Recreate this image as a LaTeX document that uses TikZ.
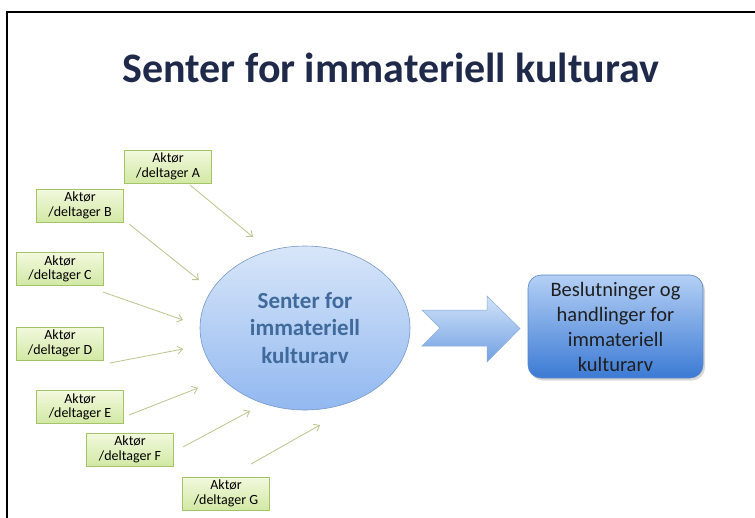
\documentclass[tikz,border=0pt]{standalone}
\usepackage{fontspec}
\setmainfont{Carlito}
\usetikzlibrary{arrows.meta,shadows,shapes.geometric}
\definecolor{titlec}{RGB}{31,42,74}
\definecolor{ellc}{RGB}{64,106,156}
\definecolor{elltop}{RGB}{216,230,249}
\definecolor{ellbot}{RGB}{145,184,240}
\definecolor{ellborder}{RGB}{120,152,200}
\definecolor{boxtop}{RGB}{180,208,245}
\definecolor{boxbot}{RGB}{60,122,212}
\definecolor{boxborder}{RGB}{90,135,200}
\definecolor{arrtop}{RGB}{210,227,249}
\definecolor{arrbot}{RGB}{112,160,226}
\definecolor{actortop}{RGB}{242,249,222}
\definecolor{actorbot}{RGB}{210,232,164}
\definecolor{actorborder}{RGB}{165,196,104}
\definecolor{feedc}{RGB}{186,198,142}
\begin{document}
\begin{tikzpicture}[x=1pt,y=-1pt,
  actor/.style={draw=actorborder, line width=0.6pt, top color=actortop, bottom color=actorbot,
    minimum width=87pt, minimum height=33pt, inner sep=0pt, align=center,
    font=\fontsize{14}{14.5}\selectfont, text=black},
  feed/.style={draw=feedc, line width=0.8pt, -{Straight Barb[length=5pt,width=8pt]}},
  hubnode/.style={ellipse, draw=ellborder, line width=0.6pt, top color=elltop, bottom color=ellbot,
    minimum width=210pt, minimum height=164pt, inner sep=0pt, align=center,
    font=\bfseries\fontsize{23}{27.5}\selectfont, text=ellc},
  resbox/.style={rectangle, rounded corners=13pt, draw=boxborder, line width=0.6pt,
    top color=boxtop, bottom color=boxbot, minimum width=175pt, minimum height=103pt,
    inner sep=0pt, align=center, font=\fontsize{20.5}{25}\selectfont, text=black!88,
    drop shadow={shadow xshift=2pt, shadow yshift=-2.5pt, opacity=0.3}},
  bigarrow/.style={draw=boxborder!70, line width=0.5pt, top color=arrtop, bottom color=arrbot}
]
\useasboundingbox (0,0) rectangle (755,517);
\fill[white] (0,0) rectangle (755,517);
\draw[line width=1.6pt, line cap=rect] (7,517) -- (7,12) -- (755,12);

\node[anchor=base, font=\bfseries\fontsize{42}{48}\selectfont, text=titlec] (title) at (391,82) {Senter for immateriell kulturav};

\node[hubnode] (ctr) at (305,328) {Senter for\\immateriell\\kulturarv};
\node[resbox] (res) at (615.5,326.5) {Beslutninger og\\handlinger for\\immateriell\\kulturarv};
\path[bigarrow] (422,310) -- (487,310) -- (487,296) -- (520,328.5) -- (487,362) -- (487,346) -- (422,346) -- (440,328) -- cycle;

\node[actor] (A) at (168,166.5) {Aktør\\/deltager A};
\node[actor] (B) at (80,205.5) {Aktør\\/deltager B};
\node[actor] (C) at (60,269) {Aktør\\/deltager C};
\node[actor] (D) at (60,343.5) {Aktør\\/deltager D};
\node[actor] (E) at (80,407) {Aktør\\/deltager E};
\node[actor] (F) at (130,449.5) {Aktør\\/deltager F};
\node[actor] (G) at (226,493.5) {Aktør\\/deltager G};

\coordinate (a1) at (190,185);  \coordinate (a2) at (253,237);
\coordinate (b1) at (129,224);  \coordinate (b2) at (199,280);
\coordinate (c1) at (103,292);  \coordinate (c2) at (183,320);
\coordinate (d1) at (110,363);  \coordinate (d2) at (183,349);
\coordinate (e1) at (129,415);  \coordinate (e2) at (198,388);
\coordinate (f1) at (183,447);  \coordinate (f2) at (250,411);
\coordinate (g1) at (251,464);  \coordinate (g2) at (320,425);

\draw[feed] (a1) -- (a2);
\draw[feed] (b1) -- (b2);
\draw[feed] (c1) -- (c2);
\draw[feed] (d1) -- (d2);
\draw[feed] (e1) -- (e2);
\draw[feed] (f1) -- (f2);
\draw[feed] (g1) -- (g2);
\end{tikzpicture}
\end{document}
